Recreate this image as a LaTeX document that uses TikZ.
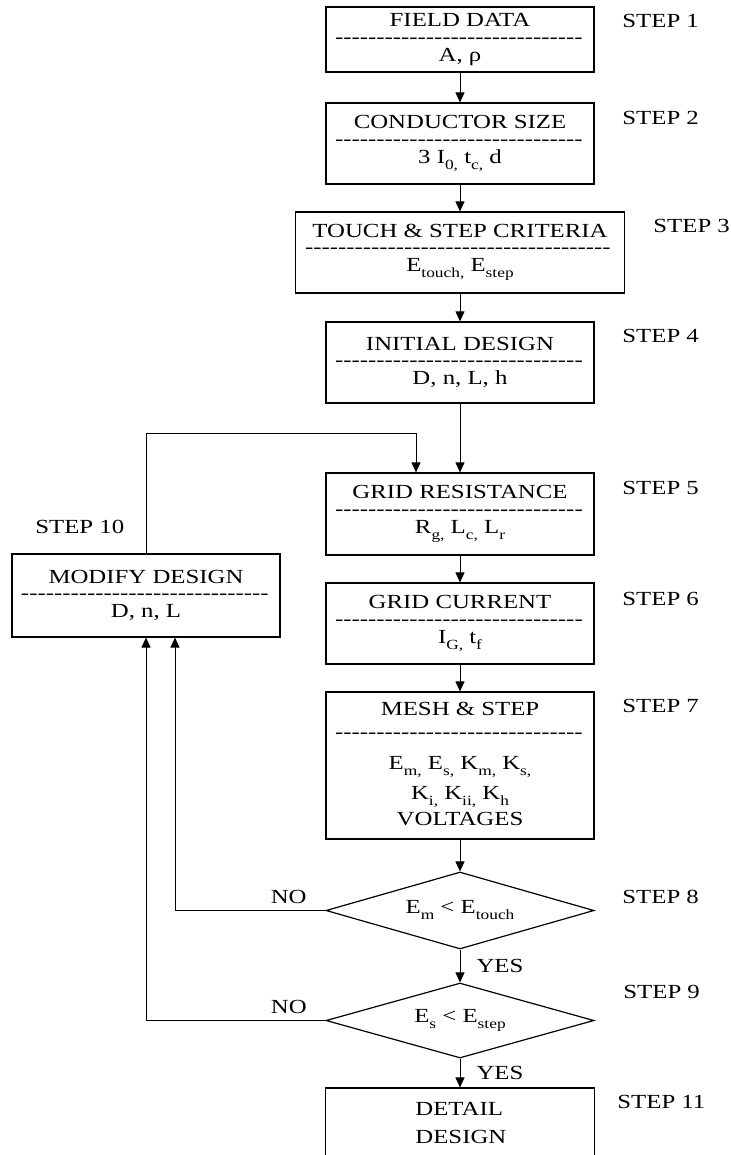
\documentclass[tikz,border=0pt]{standalone}
\usepackage{fontspec}
\setmainfont{Liberation Serif}[FakeStretch=1.24]
\usetikzlibrary{arrows.meta, shapes.geometric}

% row of hyphens between the name of a step and its quantities
\newcommand{\dashrow}[1]{\hbox to #1{\leaders\hbox{-}\hfill}}
% low subscript, as the word processor sets it
\newcommand{\sub}[1]{\raisebox{-3pt}{\fontsize{7}{8}\selectfont #1}}

\tikzset{
  stepbox/.style={draw, line width=0.6pt, minimum width=134pt, minimum height=40.5pt, inner sep=0pt, align=center},
  check/.style={draw, diamond, line width=0.6pt, minimum width=134pt, minimum height=38.5pt, inner sep=0pt, aspect=3.5},
  flow/.style={line width=0.5pt, -{Triangle[length=5pt, width=4.5pt]}},
  steplbl/.style={anchor=base west, inner sep=0pt},
  nolbl/.style={above=3pt, inner sep=0pt},
  yeslbl/.style={right=8pt, inner sep=0pt}
}

\begin{document}
\begin{tikzpicture}[x=0.5pt, y=-0.5pt, font=\fontsize{10}{12}\selectfont]

\useasboundingbox (0,0) rectangle (731,1155);
\clip (0,0) rectangle (731,1155);

% main column
\node[stepbox, minimum height=32.5pt] (fd) at (460,39.5)
  {FIELD DATA\\[-3.75pt]\dashrow{125pt}\\[-3pt]A, ρ};
\node[stepbox] (cs) at (460,143.5)
  {CONDUCTOR SIZE\\[-3.75pt]\dashrow{125pt}\\[-3pt]3 I\sub{0,} t\sub{c,} d};
\node[stepbox, minimum width=164.5pt] (ts) at (460,252.5)
  {TOUCH \& STEP CRITERIA\\[-3.75pt]\dashrow{155pt}\\[-3pt]E\sub{touch,} E\sub{step}};
\node[stepbox] (id) at (460,362.5)
  {INITIAL DESIGN\\[-3.75pt]\dashrow{125pt}\\[-3pt]D, n, L, h};
\node[stepbox, minimum height=41pt] (gr) at (460,514)
  {GRID RESISTANCE\\[-3.75pt]\dashrow{125pt}\\[-3pt]R\sub{g,} L\sub{c,} L\sub{r}};
\node[stepbox] (gc) at (460,623.5)
  {GRID CURRENT\\[-3.75pt]\dashrow{125pt}\\[-3pt]I\sub{G,} t\sub{f}};
\node[stepbox, minimum height=73.5pt] (ms) at (460,765.5)
  {MESH \& STEP\\[-0.25pt]\dashrow{125pt}\\[3.25pt]E\sub{m,} E\sub{s,} K\sub{m,} K\sub{s,}\\[3pt]K\sub{i,} K\sub{ii,} K\sub{h}\\[1pt]VOLTAGES\rule[-2pt]{0pt}{2pt}};
\node[check] (d1) at (460,910.5) {E\sub{m} < E\sub{touch}};
\node[check, minimum height=37.5pt] (d2) at (460,1020.5) {E\sub{s} < E\sub{step}};
\node[stepbox, minimum height=46pt, minimum width=134.5pt] (dd) at (460,1134) {};
\node[anchor=north west, inner sep=0pt, align=left] (ddT) at (415,1102) {DETAIL\\[2pt]DESIGN};

% loop back box
\node[stepbox, minimum height=41.5pt] (md) at (146,595.5)
  {MODIFY DESIGN\\[-3.75pt]\dashrow{125pt}\\[-3pt]D, n, L};
\coordinate (fbtop) at (146,433);

% step numbers
\foreach \n/\x/\y in {1/622/28, 2/622/125, 3/653/233, 4/622/342, 5/622/494, 6/622/605,
                      7/622/712, 8/622/903, 9/623/998, 10/35/533, 11/617/1108}
  \node[steplbl] (s\n) at (\x,\y) {STEP \n};

% arrows
\draw[flow] (fd) -- (cs);
\draw[flow] (cs) -- (ts);
\draw[flow] (ts) -- (id);
\draw[flow] (id) -- (gr);
\draw[flow] (gr) -- (gc);
\draw[flow] (gc) -- (ms);
\draw[flow] (ms) -- (d1);
\draw[flow] (d1) -- node[yeslbl] {YES} (d2);
\draw[flow] (d2) -- node[yeslbl] {YES} (dd);

% feedback
\draw[flow] (md.north) -- (md.north |- fbtop) -| ([xshift=-22pt]gr.north);
\draw[flow] (d1.west) -| node[pos=0.122, nolbl] {NO} ([xshift=14.5pt]md.south);
\draw[flow] (d2.west) -| node[pos=0.102, nolbl] {NO} (md.south);

\end{tikzpicture}
\end{document}
